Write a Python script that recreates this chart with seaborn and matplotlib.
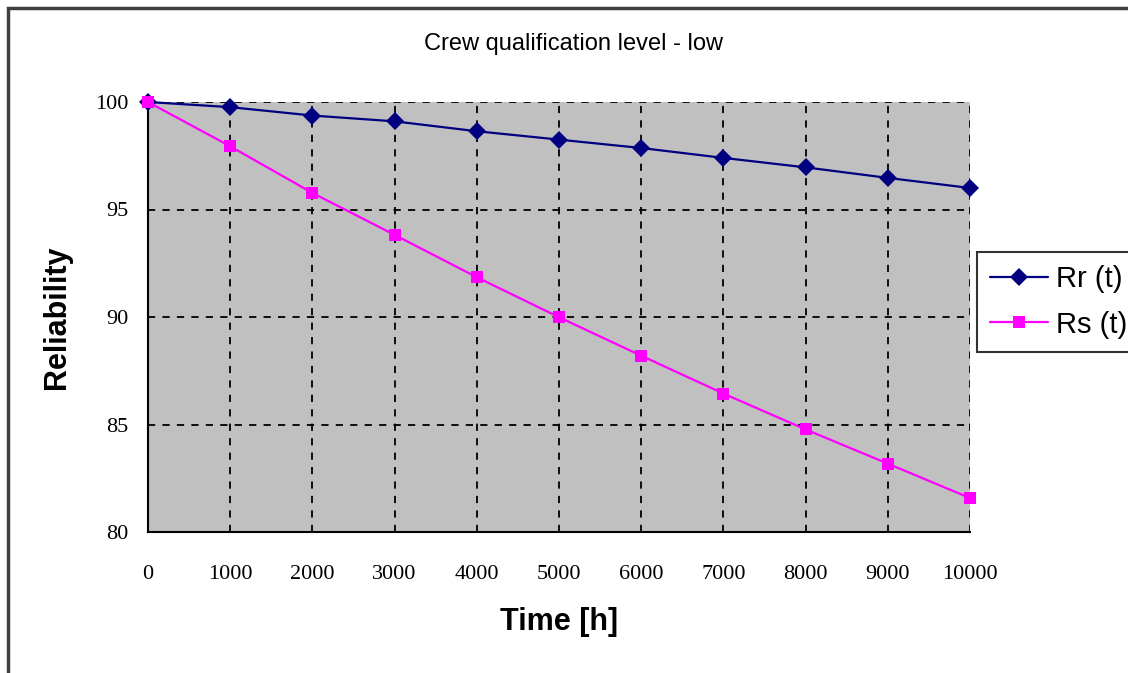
import seaborn as sns
import pandas as pd
import matplotlib.pyplot as plt
from matplotlib.patches import Rectangle

# Values
time_h = [0, 1000, 2000, 3000, 4000, 5000, 6000, 7000, 8000, 9000, 10000]
rr = [100.0, 99.76, 99.37, 99.1, 98.64, 98.25, 97.86, 97.4, 96.96, 96.47, 96.0]
rs = [100.0, 97.94, 95.77, 93.82, 91.85, 89.99, 88.2, 86.44, 84.77, 83.18, 81.58]
series_names = ['Rr (t)', 'Rs (t)']
y_ticks = [80, 85, 90, 95, 100]

df = pd.DataFrame({
    'time': time_h * 2,
    'reliability': rr + rs,
    'series': [series_names[0]] * len(time_h) + [series_names[1]] * len(time_h),
})

sns.set_style('white')
plt.rcParams['font.family'] = ['Liberation Sans', 'DejaVu Sans']
plt.rcParams['text.color'] = 'black'
plt.rcParams['axes.labelcolor'] = 'black'
plt.rcParams['xtick.color'] = 'black'
plt.rcParams['ytick.color'] = 'black'

fig = plt.figure(figsize=(11.28, 6.73), dpi=100)
ax = fig.add_axes([148 / 1128, 1 - 532 / 673, 822 / 1128, 430 / 673])
ax.set_facecolor('#c0c0c0')

sns.lineplot(data=df, x='time', y='reliability', hue='series', style='series',
             palette=['#000080', '#ff00ff'], markers=['D', 's'], dashes=False,
             markersize=9, linewidth=1.6, markeredgewidth=0, ax=ax,
             clip_on=False, zorder=5)

ax.set_xlim(0, 10000)
ax.set_ylim(80, 100)
ax.set_xticks(time_h)
ax.set_yticks(y_ticks)
ax.grid(True, color='black', linestyle=(0, (4, 4)), linewidth=1.3)
ax.set_axisbelow(True)

for side in ['top', 'right']:
    ax.spines[side].set_visible(False)
for side in ['left', 'bottom']:
    ax.spines[side].set_color('black')
    ax.spines[side].set_linewidth(1.5)

ax.tick_params(axis='both', direction='inout', length=8, width=1.3,
               labelsize=16)
ax.tick_params(axis='x', pad=20)
ax.tick_params(axis='y', pad=10)
for lbl in ax.get_xticklabels() + ax.get_yticklabels():
    lbl.set_family('Liberation Serif')

ax.set_xlabel('Time [h]', fontsize=22, fontweight='bold', va='center')
ax.xaxis.set_label_coords(0.5, (532 - 622) / 430)
ax.set_ylabel('Reliability', fontsize=22, fontweight='bold', va='center')
ax.yaxis.set_label_coords((57 - 148) / 822, 0.5)
fig.text(573 / 1128, 1 - 44 / 673, 'Crew qualification level - low',
         fontsize=17, ha='center', va='center')

ax.legend(loc='upper left', bbox_to_anchor=(977 / 1128, 1 - 252 / 673),
          bbox_transform=fig.transFigure, fontsize=21, frameon=True,
          fancybox=False, edgecolor='black', handlelength=2.0, handletextpad=0.25,
          borderpad=0.45, labelspacing=0.6, borderaxespad=0)
ax.get_legend().get_frame().set_linewidth(1.5)

# outer chart frame
fig.patches.append(Rectangle((8 / 1128, -0.1), 1.2, 1 - 8 / 673 + 0.1,
                             transform=fig.transFigure, fill=False,
                             edgecolor='#404040', linewidth=2.5))

plt.savefig('out.png', dpi=100)
